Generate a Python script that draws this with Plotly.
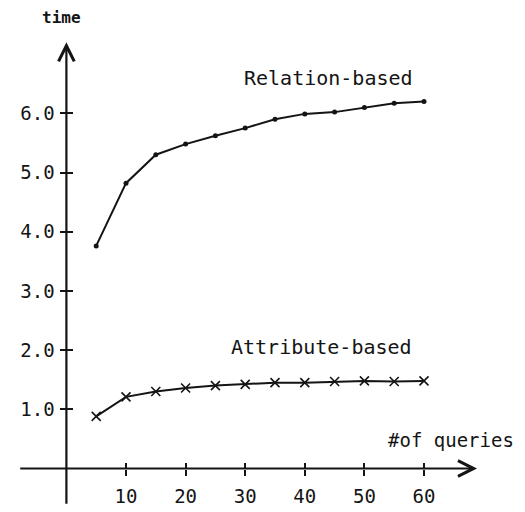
import plotly.graph_objects as go

# ---- data ----
queries = [5, 10, 15, 20, 25, 30, 35, 40, 45, 50, 55, 60]
relation_based = [3.76, 4.82, 5.30, 5.48, 5.62, 5.75, 5.90, 5.99, 6.02, 6.10, 6.17, 6.20]
attribute_based = [0.88, 1.21, 1.30, 1.36, 1.40, 1.42, 1.45, 1.45, 1.47, 1.48, 1.47, 1.48]
x_ticks = [10, 20, 30, 40, 50, 60]
x_tick_labels = ["10", "20", "30", "40", "50", "60"]
y_ticks = [1, 2, 3, 4, 5, 6]
y_tick_labels = ["1.0", "2.0", "3.0", "4.0", "5.0", "6.0"]

W, H = 525, 512
X0_PX, X_SCALE = 66.4, 5.96     # px of x=0, px per unit
Y0_PX, Y_SCALE = 468.5, 59.2    # px of y=0, px per unit
x_range = [(0 - X0_PX) / X_SCALE, (W - X0_PX) / X_SCALE]
y_range = [(Y0_PX - H) / Y_SCALE, Y0_PX / Y_SCALE]
x_axis_pos = (H - Y0_PX) / H    # paper fraction of y=0
y_axis_pos = X0_PX / W          # paper fraction of x=0

INK = "#141414"
FONT = "DejaVu Sans Mono"

fig = go.Figure()
fig.add_trace(go.Scatter(
    x=queries, y=relation_based, mode="lines+markers",
    line=dict(color=INK, width=2),
    marker=dict(symbol="circle", size=5, color=INK),
    name="Relation-based", showlegend=False,
))
fig.add_trace(go.Scatter(
    x=queries, y=attribute_based, mode="lines+markers",
    line=dict(color=INK, width=2),
    marker=dict(symbol="x-thin", size=9, line=dict(color=INK, width=1.6)),
    name="Attribute-based", showlegend=False,
))
# helper trace so the overlay axes (inside ticks) are drawn
fig.add_trace(go.Scatter(x=[None], y=[None], xaxis="x2", yaxis="y2",
                         showlegend=False, hoverinfo="skip"))

common_x = dict(range=x_range, showgrid=False, zeroline=False, showline=False,
                anchor="free", position=x_axis_pos, tickvals=x_ticks,
                ticklen=6, tickwidth=2, tickcolor=INK, automargin=False,
                fixedrange=True)
common_y = dict(range=y_range, showgrid=False, zeroline=False, showline=False,
                anchor="free", position=y_axis_pos, tickvals=y_ticks,
                ticklen=6, tickwidth=2, tickcolor=INK, automargin=False,
                fixedrange=True)

fig.update_layout(
    width=W, height=H,
    margin=dict(l=0, r=0, t=0, b=0),
    paper_bgcolor="white", plot_bgcolor="white",
    xaxis=dict(**common_x, ticks="outside", ticktext=x_tick_labels,
               ticklabelstandoff=5,
               tickfont=dict(family=FONT, size=19, color=INK)),
    yaxis=dict(**common_y, ticks="outside", ticktext=y_tick_labels,
               ticklabelstandoff=2,
               tickfont=dict(family=FONT, size=19, color=INK)),
    xaxis2=dict(**common_x, overlaying="x", ticks="inside", showticklabels=False),
    yaxis2=dict(**common_y, overlaying="y", ticks="inside", showticklabels=False),
)

# axis lines with arrowheads
fig.add_annotation(x=68.9, y=0, ax=-8.0, ay=0, xref="x", yref="y",
                   axref="x", ayref="y", text="", showarrow=True,
                   arrowhead=5, arrowsize=1.4, arrowwidth=2.2, arrowcolor=INK,
                   standoff=0, startstandoff=0)
fig.add_annotation(x=0, y=7.2, ax=0, ay=-0.62, xref="x", yref="y",
                   axref="x", ayref="y", text="", showarrow=True,
                   arrowhead=5, arrowsize=1.4, arrowwidth=2.2, arrowcolor=INK,
                   standoff=0, startstandoff=0)

# text labels
labels = [
    ("time", -0.9, 7.62, 16, True),
    ("Relation-based", 43.9, 6.60, 20, False),
    ("Attribute-based", 42.8, 2.05, 20, False),
    ("#of queries", 64.6, 0.48, 19, False),
]
for txt, lx, ly, size, bold in labels:
    fig.add_annotation(x=lx, y=ly, xref="x", yref="y", text=txt, showarrow=False,
                       font=dict(family=FONT, size=size, color=INK,
                                 weight="bold" if bold else "normal"))

fig.write_html("out.html", config={"displayModeBar": False},
               post_script="document.body.style.margin='0px';")
